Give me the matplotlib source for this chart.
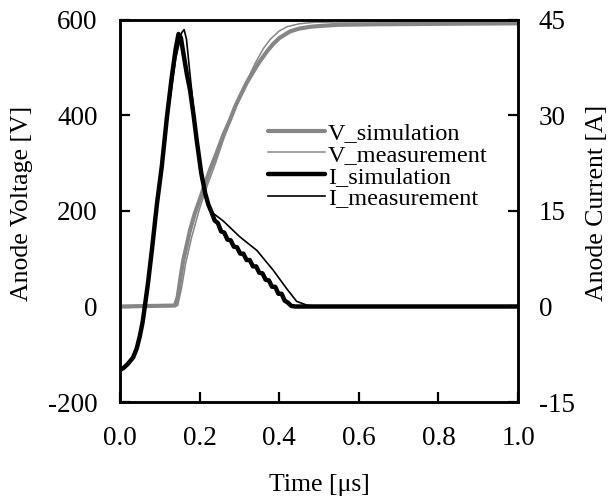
import matplotlib
matplotlib.use("Agg")
import matplotlib.pyplot as plt

plt.rcParams['font.family'] = ['Liberation Serif', 'DejaVu Serif']
plt.rcParams['axes.unicode_minus'] = False

# Anode voltage, simulation (time in us, voltage in V)
v_sim_t = [0.0, 0.138, 0.145, 0.152, 0.159, 0.168, 0.176, 0.188, 0.200, 0.213,
           0.226, 0.243, 0.260, 0.276, 0.290, 0.305, 0.318, 0.335, 0.350, 0.370,
           0.385, 0.400, 0.427, 0.450, 0.480, 0.510, 0.550, 0.640, 0.800, 1.0]
v_sim = [0, 2, 20, 60, 97, 130, 160, 195, 223, 255,
         286, 322, 360, 390, 420, 446, 468, 492, 512, 535,
         550, 562, 576, 582, 586, 588, 590, 591, 592, 593]

# Anode voltage, measurement
v_meas_t = [0.0, 0.145, 0.155, 0.165, 0.180, 0.200, 0.220, 0.240, 0.260, 0.280,
            0.300, 0.320, 0.340, 0.360, 0.377, 0.400, 0.420, 0.450, 0.485, 0.550, 1.0]
v_meas = [1, 2, 40, 90, 145, 205, 255, 300, 350, 395,
          435, 475, 510, 540, 559, 577, 586, 592, 595, 596, 597]

# Anode current, simulation (A)
i_sim_t = [0.0, 0.010, 0.020, 0.033, 0.042, 0.050, 0.057, 0.063, 0.070, 0.080,
           0.093, 0.105, 0.118, 0.130, 0.140, 0.147, 0.153, 0.160, 0.168, 0.176,
           0.185, 0.193, 0.204, 0.214, 0.222, 0.230, 0.238, 0.246, 0.254, 0.262,
           0.270, 0.278, 0.286, 0.294, 0.302, 0.310, 0.318, 0.326, 0.334, 0.342,
           0.350, 0.358, 0.366, 0.374, 0.382, 0.390, 0.398, 0.406, 0.414, 0.422,
           0.430, 0.440, 1.0]
i_sim = [-10.0, -9.6, -9.0, -8.0, -6.6, -4.6, -2.4, 0.3, 3.5, 8.8,
         16.2, 22.0, 29.8, 36.0, 40.5, 42.8, 42.2, 39.5, 36.5, 34.0,
         30.0, 26.0, 21.0, 17.8, 16.0, 14.8, 13.5, 13.1, 11.8, 11.6,
         10.5, 10.4, 9.4, 9.3, 8.3, 8.3, 7.3, 7.3, 6.3, 6.3,
         5.3, 5.2, 4.2, 4.1, 3.1, 3.1, 2.0, 2.0, 0.9, 0.6,
         0.1, 0.0, 0.0]

# Anode current, measurement
i_meas_t = [0.0, 0.010, 0.020, 0.033, 0.042, 0.050, 0.057, 0.064, 0.071, 0.081,
            0.095, 0.120, 0.140, 0.155, 0.161, 0.167, 0.175, 0.190, 0.205, 0.220,
            0.235, 0.260, 0.300, 0.344, 0.385, 0.420, 0.444, 0.470, 0.500, 1.0]
i_meas = [-10.0, -9.6, -9.0, -8.0, -6.6, -4.7, -2.5, 0.3, 3.5, 8.6,
          17.0, 30.0, 39.0, 43.0, 43.5, 42.0, 37.0, 28.0, 20.0, 16.2,
          14.6, 13.4, 11.0, 8.8, 5.7, 2.7, 0.8, 0.2, 0.0, 0.0]

x_ticks = [0.0, 0.2, 0.4, 0.6, 0.8, 1.0]
v_ticks = [-200, 0, 200, 400, 600]
i_ticks = [-15, 0, 15, 30, 45]

GRAY = '#868686'
FS_TICK = 19.5
FS_LABEL = 18.5

fig = plt.figure(figsize=(6.10, 4.97), dpi=100)
ax = fig.add_axes([120 / 610, 95 / 497, 398 / 610, 382 / 497])
ax2 = ax.twinx()

l1, = ax.plot(v_sim_t, v_sim, color=GRAY, lw=3.0, solid_capstyle='round',
              solid_joinstyle='round', label='V_simulation')
l2, = ax.plot(v_meas_t, v_meas, color=GRAY, lw=1.1, label='V_measurement')
l3, = ax2.plot(i_sim_t, i_sim, color='black', lw=3.2, solid_capstyle='round',
               solid_joinstyle='round', label='I_simulation')
l4, = ax2.plot(i_meas_t, i_meas, color='black', lw=1.2, label='I_measurement')

ax.set_xlim(0, 1.0)
ax.set_ylim(-200, 600)
ax2.set_ylim(-15, 45)
ax.set_xticks(x_ticks)
ax.set_xticklabels([f'{t:.1f}' for t in x_ticks])
ax.set_yticks(v_ticks)
ax2.set_yticks(i_ticks)

for a in (ax, ax2):
    for s in a.spines.values():
        s.set_linewidth(1.8)
ax.tick_params(axis='both', direction='in', length=7, width=1.6, labelsize=FS_TICK)
ax.tick_params(axis='y', pad=16)
ax.tick_params(axis='x', pad=17, top=False)
ax2.tick_params(axis='y', direction='in', length=7, width=1.6, labelsize=FS_TICK, pad=15)

ax.set_xlabel('Time [μs]', fontsize=FS_LABEL)
ax.set_ylabel('Anode Voltage [V]', fontsize=FS_LABEL)
ax2.set_ylabel('Anode Current [A]', fontsize=FS_LABEL)
ax.xaxis.set_label_coords(0.5, -0.217)
ax.yaxis.set_label_coords(-0.245, 0.52)
ax2.yaxis.set_label_coords(1.198, 0.52)
for lab in (ax.xaxis.label, ax.yaxis.label, ax2.yaxis.label):
    lab.set_verticalalignment('center')

fig.legend(handles=[l1, l2, l3, l4], loc='upper left',
           bbox_to_anchor=(268 / 610, (497 - 122) / 497), frameon=False,
           fontsize=17.5, labelspacing=-0.01, handlelength=2.35, handletextpad=0.12,
           borderpad=0, borderaxespad=0)

fig.savefig('out.png', dpi=100)
